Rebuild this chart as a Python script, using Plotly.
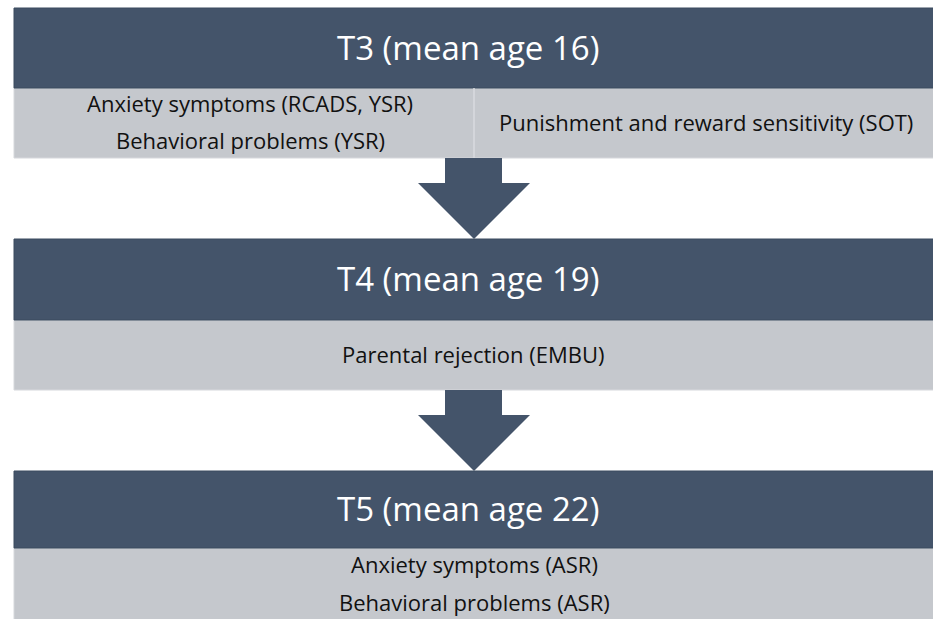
import plotly.graph_objects as go

# ---- content ----
stage_titles = ["T3 (mean age 16)", "T4 (mean age 19)", "T5 (mean age 22)"]
t3_left_measures = ["Anxiety symptoms (RCADS, YSR)", "Behavioral problems (YSR)"]
t3_right_measures = ["Punishment and reward sensitivity (SOT)"]
t4_measures = ["Parental rejection (EMBU)"]
t5_measures = ["Anxiety symptoms (ASR)", "Behavioral problems (ASR)"]

DARK = "#44546A"
GRAY = "#C5C8CD"
TXT = "#111111"
FONT = "Open Sans"
TITLE_SIZE = 33
BODY_SIZE = 22

W, H = 933, 619
X0, X1 = 14, 933
XC = (X0 + X1) / 2

# vertical layout of each stage: (header top, header bottom, body bottom)
stages = [(8, 88, 158), (239, 320, 390), (471, 548, 619)]

fig = go.Figure()
fig.add_trace(go.Scatter(x=[0, W], y=[0, H], mode="markers",
                         marker=dict(opacity=0), hoverinfo="skip", showlegend=False))

shapes = []
annotations = []

for i, (top, mid, bot) in enumerate(stages):
    shapes.append(dict(type="rect", x0=X0, x1=X1 + 2, y0=mid, y1=bot + (3 if i == 2 else 0),
                       fillcolor=GRAY, line=dict(color="#D6D8DC", width=1), layer="below"))
    shapes.append(dict(type="rect", x0=X0, x1=X1 + 2, y0=top, y1=mid,
                       fillcolor=DARK, line=dict(color="#3B4A5E", width=1), layer="below"))
    annotations.append(dict(x=XC - 6, y=(top + mid) / 2 - 1, text=stage_titles[i], showarrow=False,
                            font=dict(family=FONT, size=TITLE_SIZE, color="white"),
                            xanchor="center", yanchor="middle"))

# T3 body: two cells
shapes.append(dict(type="line", x0=474, x1=474, y0=88, y1=158,
                   line=dict(color="#D9DBDF", width=1.5)))
for j, t in enumerate(t3_left_measures):
    annotations.append(dict(x=250, y=103 + j * 37, text=t, showarrow=False,
                            font=dict(family=FONT, size=BODY_SIZE, color=TXT),
                            xanchor="center", yanchor="middle"))
for t in t3_right_measures:
    annotations.append(dict(x=706, y=122, text=t, showarrow=False,
                            font=dict(family=FONT, size=BODY_SIZE, color=TXT),
                            xanchor="center", yanchor="middle"))
# T4 body
for t in t4_measures:
    annotations.append(dict(x=XC, y=354, text=t, showarrow=False,
                            font=dict(family=FONT, size=BODY_SIZE, color=TXT),
                            xanchor="center", yanchor="middle"))
# T5 body
for j, t in enumerate(t5_measures):
    annotations.append(dict(x=XC + 1, y=564 + j * 38, text=t, showarrow=False,
                            font=dict(family=FONT, size=BODY_SIZE, color=TXT),
                            xanchor="center", yanchor="middle"))

# arrows between stages
for (top_a, mid_a, bot_a), (top_b, _, _) in zip(stages[:-1], stages[1:]):
    ax = 474
    path = (f"M {ax-29},{bot_a} L {ax+28},{bot_a} L {ax+28},{bot_a+25} "
            f"L {ax+56},{bot_a+25} L {ax},{top_b} L {ax-56},{bot_a+25} "
            f"L {ax-29},{bot_a+25} Z")
    shapes.append(dict(type="path", path=path, fillcolor=DARK,
                       line=dict(color=DARK, width=0)))

fig.update_layout(
    width=W, height=H,
    margin=dict(l=0, r=0, t=0, b=0),
    paper_bgcolor="white", plot_bgcolor="white",
    xaxis=dict(range=[0, W], visible=False, fixedrange=True),
    yaxis=dict(range=[H, 0], visible=False, fixedrange=True),
    shapes=shapes, annotations=annotations, showlegend=False,
)

fig.write_html("out.html", config={"displayModeBar": False},
               post_script="document.body.style.margin='0';document.body.style.overflow='hidden';")
